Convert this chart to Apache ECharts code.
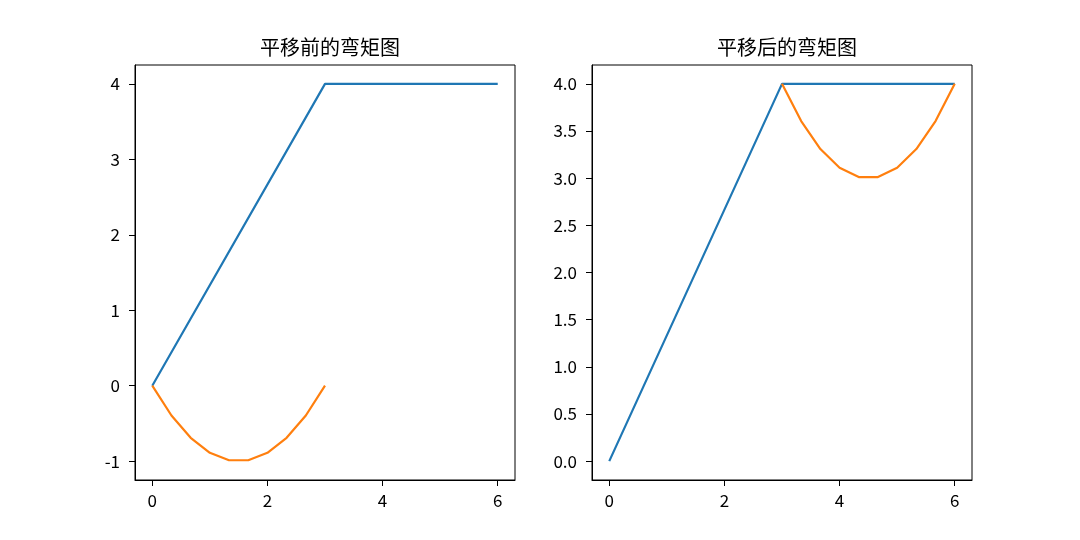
<!DOCTYPE html>
<html>
<head>
<meta charset="utf-8">
<script src="https://cdn.jsdelivr.net/npm/echarts@6/dist/echarts.min.js"></script>
<style>
  html, body { margin: 0; padding: 0; background: #fff; }
  #chart { width: 1080px; height: 540px; }
</style>
</head>
<body>
<div id="chart"></div>
<script>
const titles = ['平移前的弯矩图', '平移后的弯矩图'];

const xTicks = [0, 2, 4, 6];
const yTicksBefore = [-1, 0, 1, 2, 3, 4];
const yTicksAfter = [0, 0.5, 1, 1.5, 2, 2.5, 3, 3.5, 4];

// blue line, same in both panels
const blueX = [0, 3, 6];
const blueY = [0, 4, 4];

// orange curve before shift
const orangeBeforeX = [0, 0.333, 0.667, 1, 1.333, 1.667, 2, 2.333, 2.667, 3];
const orangeBeforeY = [0, -0.395, -0.691, -0.889, -0.988, -0.988, -0.889, -0.691, -0.395, 0];

// orange curve after shift
const orangeAfterX = [3, 3.333, 3.667, 4, 4.333, 4.667, 5, 5.333, 5.667, 6];
const orangeAfterY = [4, 3.605, 3.309, 3.111, 3.012, 3.012, 3.111, 3.309, 3.605, 4];

const font = '"Noto Sans CJK SC", "Noto Sans", sans-serif';

function pairs(xs, ys) {
  return xs.map((x, i) => [x, ys[i]]);
}

function xAxis(gridIndex) {
  return {
    type: 'value',
    gridIndex,
    min: -0.3,
    max: 6.3,
    axisLine: { show: true, onZero: false, lineStyle: { color: '#000', width: 1 } },
    axisTick: { show: true, length: 6, customValues: xTicks, lineStyle: { color: '#000' } },
    axisLabel: { customValues: xTicks, color: '#000', fontSize: 17, fontFamily: font, margin: 12 },
    splitLine: { show: false },
  };
}

function yAxis(gridIndex, min, max, ticks, fmt) {
  return {
    type: 'value',
    gridIndex,
    min,
    max,
    axisLine: { show: true, onZero: false, lineStyle: { color: '#000', width: 1 } },
    axisTick: { show: true, length: 6, customValues: ticks, lineStyle: { color: '#000' } },
    axisLabel: { customValues: ticks, color: '#000', fontSize: 17, fontFamily: font, margin: 15, formatter: fmt },
    splitLine: { show: false },
  };
}

function line(name, xIdx, data, color) {
  return {
    name,
    type: 'line',
    xAxisIndex: xIdx,
    yAxisIndex: xIdx,
    data,
    symbol: 'none',
    lineStyle: { color, width: 2.2 },
    animation: false,
  };
}

const chart = echarts.init(document.getElementById('chart'), null, { renderer: 'canvas' });

chart.setOption({
  animation: false,
  title: [
    { text: titles[0], left: 325, top: 32, textAlign: 'center', textStyle: { fontSize: 20, fontWeight: 'normal', color: '#000', fontFamily: font } },
    { text: titles[1], left: 782, top: 32, textAlign: 'center', textStyle: { fontSize: 20, fontWeight: 'normal', color: '#000', fontFamily: font } },
  ],
  grid: [
    { left: 135, top: 65, width: 380, height: 415, show: true, borderColor: '#000', borderWidth: 1 },
    { left: 592, top: 65, width: 380, height: 415, show: true, borderColor: '#000', borderWidth: 1 },
  ],
  xAxis: [xAxis(0), xAxis(1)],
  yAxis: [
    yAxis(0, -1.25, 4.25, yTicksBefore, (v) => String(v)),
    yAxis(1, -0.2, 4.2, yTicksAfter, (v) => v.toFixed(1)),
  ],
  series: [
    line('before-blue', 0, pairs(blueX, blueY), '#1f77b4'),
    line('before-orange', 0, pairs(orangeBeforeX, orangeBeforeY), '#ff7f0e'),
    line('after-blue', 1, pairs(blueX, blueY), '#1f77b4'),
    line('after-orange', 1, pairs(orangeAfterX, orangeAfterY), '#ff7f0e'),
  ],
});
</script>
</body>
</html>
